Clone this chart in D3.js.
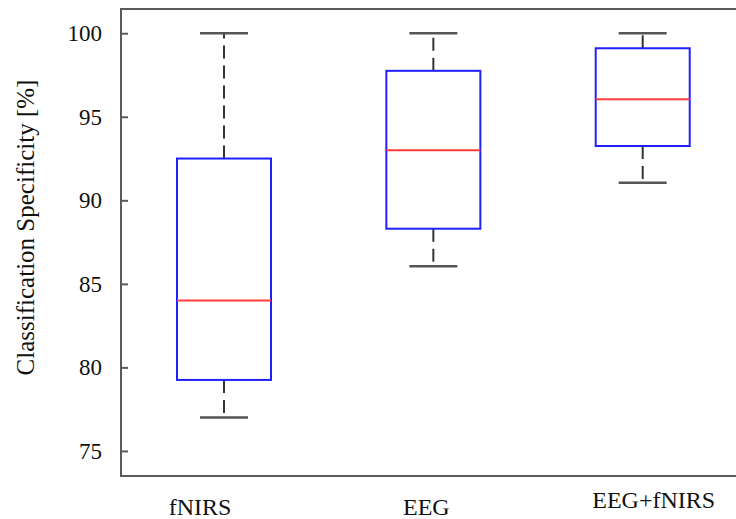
<!DOCTYPE html>
<html>
<head>
<meta charset="utf-8">
<script src="https://cdn.jsdelivr.net/npm/d3@7"></script>
<style>
html,body{margin:0;padding:0;background:#fff;}
svg{display:block;}
text{font-family:"Liberation Serif","Times New Roman",serif;fill:#111;}
</style>
</head>
<body>
<div id="chart"></div>
<script>
const categories = ["fNIRS", "EEG", "EEG+fNIRS"];
const whiskerLow = [77, 86.05, 91.05];
const q1 = [79.25, 88.3, 93.25];
const median = [84, 93, 96.05];
const q3 = [92.5, 97.75, 99.1];
const whiskerHigh = [100, 100, 100];
const yTicks = [75, 80, 85, 90, 95, 100];

const W = 736, H = 519;
const plotLeft = 121, plotTop = 9, plotBottom = 476;
const svg = d3.select("#chart").append("svg").attr("width", W).attr("height", H);

const y = d3.scaleLinear().domain([73.5, 101.45]).range([plotBottom, plotTop]);
const x = d3.scalePoint().domain(categories).range([224, 642.7]);

const data = categories.map((c, i) => ({
  c, lo: whiskerLow[i], q1: q1[i], med: median[i], q3: q3[i], hi: whiskerHigh[i]
}));

const boxHalf = 47, capHalf = 24;

const g = svg.append("g");
data.forEach(d => {
  const cx = x(d.c);
  g.append("line").attr("x1", cx).attr("x2", cx).attr("y1", y(d.q1)).attr("y2", y(d.lo))
    .attr("stroke", "#333").attr("stroke-width", 2).attr("stroke-dasharray", "13,7");
  g.append("line").attr("x1", cx).attr("x2", cx).attr("y1", y(d.q3)).attr("y2", y(d.hi))
    .attr("stroke", "#333").attr("stroke-width", 2).attr("stroke-dasharray", "13,7");
  [d.lo, d.hi].forEach(v => {
    g.append("line").attr("x1", cx - capHalf).attr("x2", cx + capHalf).attr("y1", y(v)).attr("y2", y(v))
      .attr("stroke", "#555").attr("stroke-width", 2.5);
  });
  g.append("rect").attr("x", cx - boxHalf).attr("y", y(d.q3)).attr("width", boxHalf * 2)
    .attr("height", y(d.q1) - y(d.q3)).attr("fill", "none").attr("stroke", "#1f1fff").attr("stroke-width", 2);
  g.append("line").attr("x1", cx - boxHalf).attr("x2", cx + boxHalf).attr("y1", y(d.med)).attr("y2", y(d.med))
    .attr("stroke", "#ff3b3b").attr("stroke-width", 2);
});

svg.append("path").attr("d", `M${W},${plotTop}H${plotLeft}V${plotBottom}H${W}`)
  .attr("fill", "none").attr("stroke", "#5a5a5a").attr("stroke-width", 2);

const yAxis = d3.axisLeft(y).tickValues(yTicks).tickSize(-7).tickPadding(19);
const ya = svg.append("g").attr("transform", `translate(${plotLeft},0)`).call(yAxis);
ya.select(".domain").remove();
ya.selectAll(".tick line").attr("stroke", "#5a5a5a").attr("stroke-width", 2);
ya.selectAll(".tick text").style("font-family", "'Liberation Serif', serif").style("font-size", "23px").attr("fill", "#111");

const labelDx = [-24, -7, 11];
const labelY = [515, 515, 508];
svg.append("g").selectAll("text").data(categories).join("text")
  .attr("x", (d, i) => x(d) + labelDx[i])
  .attr("y", (d, i) => labelY[i])
  .attr("text-anchor", "middle")
  .style("font-size", "24px")
  .text(d => d);

svg.append("text")
  .attr("transform", "translate(34,227.5) rotate(-90)")
  .attr("text-anchor", "middle")
  .style("font-size", "25px")
  .text("Classification Specificity [%]");
</script>
</body>
</html>
